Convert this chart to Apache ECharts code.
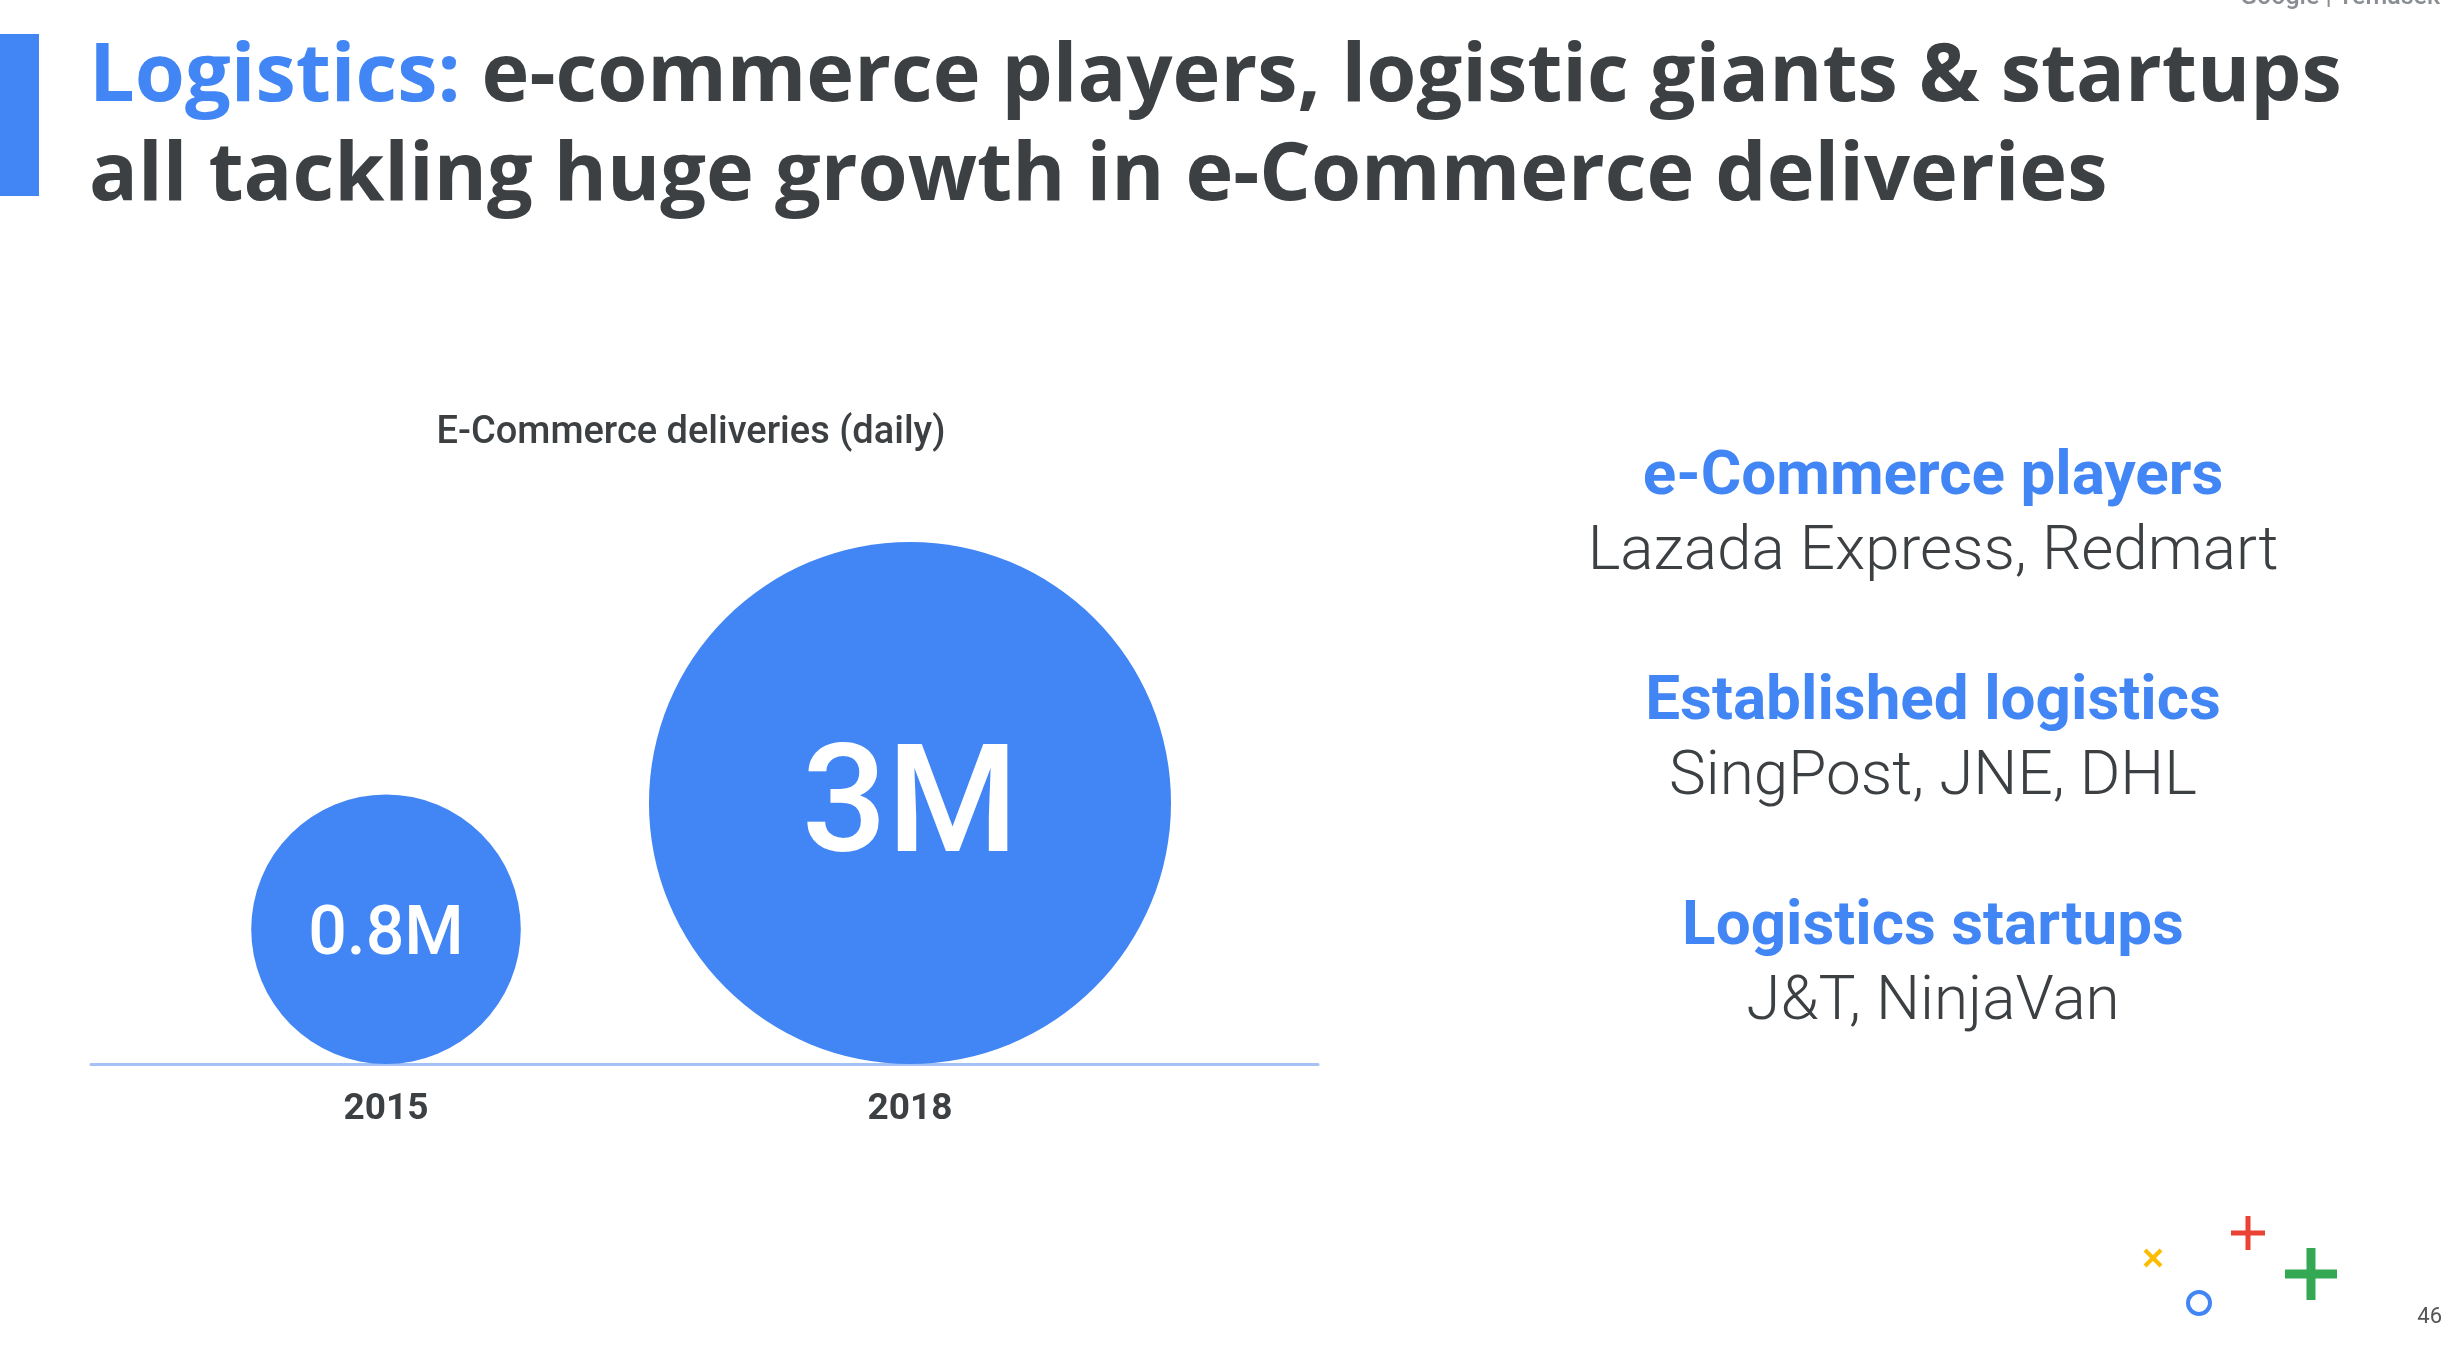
<!DOCTYPE html>
<html>
<head>
<meta charset="utf-8">
<script src="https://cdn.jsdelivr.net/npm/echarts@6/dist/echarts.min.js"></script>
<style>
html,body{margin:0;padding:0;background:#fff;}
#chart{width:2454px;height:1352px;}
</style>
</head>
<body>
<div id="chart"></div>
<script>
// ---- data ----
const years = [2015, 2018];
const deliveriesM = [0.8, 3];           // daily e-commerce deliveries, millions
const valueLabels = ['0.8M', '3M'];
const chartTitle = 'E-Commerce deliveries (daily)';
const groupHeadings = ['e-Commerce players', 'Established logistics', 'Logistics startups'];
const groupMembers = ['Lazada Express, Redmart', 'SingPost, JNE, DHL', 'J&T, NinjaVan'];
const pageNumber = '46';

// ---- styles ----
const BLUE = '#4285F4';
const DARK = '#3C4043';
const RADIUS_PER_SQRT = 150.7;   // px radius per sqrt(million)
const labelFontSizes = [68, 150];
const labelNudge = [8, 11];

const chart = echarts.init(document.getElementById('chart'), null, {renderer: 'canvas'});

const graphics = [
  {type: 'rect', shape: {x: 0, y: 34, width: 39, height: 162}, style: {fill: BLUE}},
  {
    type: 'text', x: 89, y: 28,
    style: {
      text: '{b|Logistics: }{d|e-commerce players, logistic giants & startups}\n{d|all tackling huge growth in e-Commerce deliveries}',
      verticalAlign: 'top',
      rich: {
        b: {fill: BLUE, fontFamily: 'Open Sans', fontWeight: 'bold', fontSize: 81, lineHeight: 99},
        d: {fill: DARK, fontFamily: 'Open Sans', fontWeight: 'bold', fontSize: 81, lineHeight: 99}
      }
    }
  },
  {
    type: 'text', x: 2340, y: 10,
    style: {text: 'Google | Temasek', align: 'center', verticalAlign: 'bottom', fill: '#8A8E93', fontFamily: 'Roboto', fontWeight: 500, fontSize: 25}
  },
  {
    type: 'text', x: 2442, y: 1317,
    style: {text: pageNumber, align: 'right', verticalAlign: 'middle', fill: '#555', fontFamily: 'Roboto', fontSize: 22}
  },
  // decorative marks
  {type: 'line', shape: {x1: 2145, y1: 1250, x2: 2161, y2: 1266}, style: {stroke: '#FBBC04', lineWidth: 4}},
  {type: 'line', shape: {x1: 2161, y1: 1250, x2: 2145, y2: 1266}, style: {stroke: '#FBBC04', lineWidth: 4}},
  {type: 'line', shape: {x1: 2231, y1: 1233, x2: 2265, y2: 1233}, style: {stroke: '#EA4335', lineWidth: 5}},
  {type: 'line', shape: {x1: 2248, y1: 1216, x2: 2248, y2: 1250}, style: {stroke: '#EA4335', lineWidth: 5}},
  {type: 'line', shape: {x1: 2285, y1: 1274, x2: 2337, y2: 1274}, style: {stroke: '#34A853', lineWidth: 9}},
  {type: 'line', shape: {x1: 2311, y1: 1248, x2: 2311, y2: 1300}, style: {stroke: '#34A853', lineWidth: 9}},
  {type: 'circle', shape: {cx: 2199, cy: 1303, r: 11}, style: {fill: 'none', stroke: BLUE, lineWidth: 4}}
];

const groupCenterX = 1933;
const groupTopY = [478, 703, 928];
groupHeadings.forEach(function (h, i) {
  graphics.push({
    type: 'text', x: groupCenterX, y: groupTopY[i],
    style: {text: h, align: 'center', verticalAlign: 'middle', fill: BLUE, fontFamily: 'Roboto', fontWeight: 'bold', fontSize: 62}
  });
  graphics.push({
    type: 'text', x: groupCenterX, y: groupTopY[i] + 75,
    style: {text: groupMembers[i], align: 'center', verticalAlign: 'middle', fill: DARK, fontFamily: 'Roboto', fontWeight: 300, fontSize: 62}
  });
});

const option = {
  animation: false,
  backgroundColor: '#fff',
  title: {
    text: chartTitle,
    left: 686, top: 409, textAlign: 'center',
    textStyle: {color: DARK, fontFamily: 'Roboto', fontWeight: 500, fontSize: 38}
  },
  grid: {left: 91, width: 1227, bottom: 288, top: 500},
  xAxis: {
    type: 'value',
    min: 2013.311, max: 2020.336,
    splitLine: {show: false},
    axisTick: {show: false},
    axisLine: {show: true, onZero: false, lineStyle: {color: '#A4C2F4', width: 3}},
    axisLabel: {
      customValues: years,
      margin: 27,
      color: DARK, fontFamily: 'Roboto', fontWeight: 'bold', fontSize: 37,
      formatter: function (v) { return String(v); }
    }
  },
  yAxis: {type: 'value', min: 0, max: 1, show: false},
  graphic: graphics,
  series: [{
    type: 'custom',
    clip: false,
    data: years.map(function (y, i) { return [y, deliveriesM[i]]; }),
    renderItem: function (params, api) {
      const base = api.coord([api.value(0), 0]);
      const r = RADIUS_PER_SQRT * Math.sqrt(api.value(1));
      const idx = params.dataIndex;
      return {
        type: 'group',
        children: [
          {type: 'circle', shape: {cx: base[0], cy: base[1] - r, r: r}, style: {fill: BLUE}},
          {type: 'text', x: base[0], y: base[1] - r + labelNudge[idx],
           style: {text: valueLabels[idx], align: 'center', verticalAlign: 'middle', fill: '#fff',
                   fontFamily: 'Roboto', fontWeight: 500, fontSize: labelFontSizes[idx]}}
        ]
      };
    }
  }]
};
chart.setOption(option);
</script>
</body>
</html>
